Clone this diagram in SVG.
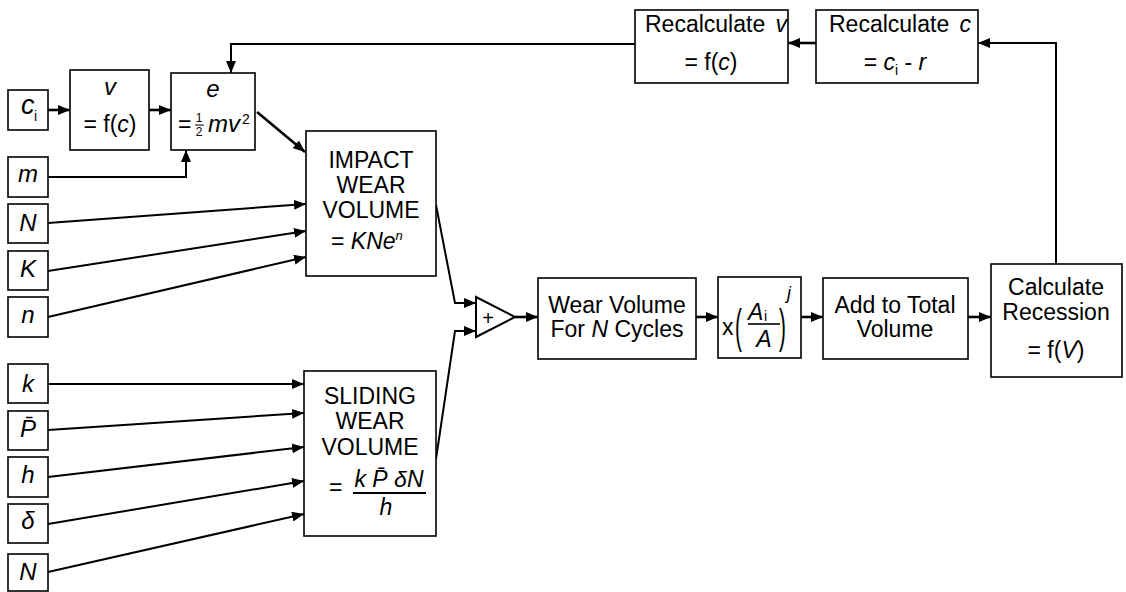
<svg xmlns="http://www.w3.org/2000/svg" width="1126" height="592" viewBox="0 0 1126 592">
<defs>
<marker id="ah" viewBox="0 0 12 10" refX="12" refY="5" markerWidth="12" markerHeight="10" markerUnits="userSpaceOnUse" orient="auto">
<path d="M0,0 L12,5 L0,10 z" fill="#000"/>
</marker>
<style>
rect.b{fill:#fff;stroke:#000;stroke-width:1.6}
text{font-family:"Liberation Sans",Arial,sans-serif;font-size:23px;fill:#000}
.m{text-anchor:middle}
.i{font-style:italic}
.v{font-size:24px}
.s{font-size:14px}
.c path{fill:none;stroke:#000;stroke-width:2;marker-end:url(#ah)}
.c path.t{stroke-width:2.6}
</style>
</defs>
<rect width="1126" height="592" fill="#fff"/>

<g class="c" id="connectors">
<path class="t" d="M48,110 L70,110"/>
<path class="t" d="M149,110 L171,110"/>
<path d="M48,177 L186,177 L186,150"/>
<path class="t" d="M257,112 L305,152"/>
<path d="M48,223 L306,204"/>
<path d="M48,271 L306,231"/>
<path d="M48,317 L306,257"/>
<path d="M436,205 L455,303 L476,303"/>
<path d="M436,459 L455,331 L476,331"/>
<path class="t" d="M515,317 L538,317"/>
<path class="t" d="M696,317 L718,317"/>
<path class="t" d="M801,317 L823,317"/>
<path class="t" d="M968,317 L991,317"/>
<path d="M1056,264 L1056,43 L978,43"/>
<path class="t" d="M816,43 L788,43"/>
<path d="M635,44 L231,44 L231,73"/>
<path d="M48,384 L304,384"/>
<path d="M48,430 L304,413"/>
<path d="M48,477 L304,447"/>
<path d="M48,524 L304,481"/>
<path d="M48,572 L304,514"/>
</g>

<g id="n-ci"><rect class="b" x="8" y="90" width="40" height="40"/>
<text x="21" y="114" class="i" style="font-size:27px">c</text><text x="34" y="121" class="s">i</text></g>
<g id="n-v"><rect class="b" x="70" y="70" width="79" height="80"/>
<text x="110" y="95" class="m i v">v</text>
<text x="110" y="132" class="m">= f(<tspan class="i">c</tspan>)</text></g>
<g id="n-e"><rect class="b" x="171" y="73" width="84" height="77"/>
<text x="213" y="97" class="m i v">e</text>
<text x="178" y="132">=</text>
<text x="199" y="122" class="m" style="font-size:12px">1</text>
<line x1="195" y1="125" x2="204" y2="125" stroke="#000" stroke-width="1"/>
<text x="199" y="136" class="m" style="font-size:12px">2</text>
<text x="208" y="132" class="i" style="font-size:24px">mv</text>
<text x="242" y="124" class="s">2</text></g>
<g id="n-m"><rect class="b" x="8" y="157" width="40" height="40"/>
<text x="28" y="182" class="m i v">m</text></g>
<g id="n-N1"><rect class="b" x="8" y="204" width="40" height="39"/>
<text x="28" y="231" class="m i v">N</text></g>
<g id="n-K"><rect class="b" x="8" y="251" width="40" height="39"/>
<text x="28" y="277" class="m i v">K</text></g>
<g id="n-n"><rect class="b" x="8" y="297" width="40" height="40"/>
<text x="28" y="323" class="m i v">n</text></g>

<g id="n-impact"><rect class="b" x="306" y="131" width="130" height="145"/>
<text x="371" y="168" class="m">IMPACT</text>
<text x="371" y="193" class="m">WEAR</text>
<text x="371" y="218" class="m">VOLUME</text>
<text x="331" y="249">= <tspan class="i">KNe</tspan><tspan class="i" style="font-size:13px" dy="-9">n</tspan></text></g>

<g id="n-k"><rect class="b" x="8" y="364" width="40" height="39"/>
<text x="28" y="392" class="m i v">k</text></g>
<g id="n-P"><rect class="b" x="8" y="411" width="40" height="39"/>
<text x="28" y="437" class="m i v">P̄</text></g>
<g id="n-h"><rect class="b" x="8" y="457" width="40" height="40"/>
<text x="28" y="483" class="m i v">h</text></g>
<g id="n-d"><rect class="b" x="8" y="504" width="40" height="39"/>
<text x="28" y="529" class="m i v">δ</text></g>
<g id="n-N2"><rect class="b" x="8" y="554" width="40" height="37"/>
<text x="28" y="580" class="m i v">N</text></g>

<g id="n-sliding"><rect class="b" x="304" y="371" width="132" height="165"/>
<text x="370" y="404" class="m">SLIDING</text>
<text x="370" y="429" class="m">WEAR</text>
<text x="370" y="455" class="m">VOLUME</text>
<text x="329" y="495">=</text>
<text x="389" y="487" class="m i">k P̄ δN</text>
<line x1="353" y1="493" x2="426" y2="493" stroke="#000" stroke-width="2"/>
<text x="386" y="515" class="m i">h</text></g>

<g id="n-sum"><polygon points="476,297 476,337 515,317" fill="#fff" stroke="#000" stroke-width="2"/>
<text x="488" y="325" class="m" style="font-size:20px">+</text></g>

<g id="n-wear"><rect class="b" x="538" y="278" width="158" height="81"/>
<text x="617" y="313" class="m">Wear Volume</text>
<text x="617" y="337" class="m">For <tspan class="i">N</tspan> Cycles</text></g>

<g id="n-ratio"><rect class="b" x="718" y="277" width="83" height="81"/>
<text x="722" y="335">x</text>
<text x="735" y="342" style="font-size:46px" transform="translate(735 342) scale(0.45 1) translate(-735 -342)">(</text>
<text x="748" y="320" class="i">A</text><text x="764" y="321" class="s">i</text>
<line x1="748" y1="324" x2="780" y2="324" stroke="#000" stroke-width="1.6"/>
<text x="764" y="347" class="m i">A</text>
<text x="779" y="342" style="font-size:46px" transform="translate(779 342) scale(0.45 1) translate(-779 -342)">)</text>
<text x="787" y="299" class="i" style="font-size:18px">j</text></g>

<g id="n-add"><rect class="b" x="823" y="278" width="145" height="81"/>
<text x="895" y="313" class="m">Add to Total</text>
<text x="895" y="337" class="m">Volume</text></g>

<g id="n-calc"><rect class="b" x="991" y="264" width="131" height="113"/>
<text x="1056" y="295" class="m">Calculate</text>
<text x="1056" y="320" class="m">Recession</text>
<text x="1056" y="358" class="m">= f(<tspan class="i">V</tspan>)</text></g>

<g id="n-rv"><rect class="b" x="635" y="10" width="153" height="73"/>
<text x="645" y="32">Recalculate <tspan class="i" dx="4">v</tspan></text>
<text x="711" y="70" class="m">= f(<tspan class="i">c</tspan>)</text></g>

<g id="n-rc"><rect class="b" x="816" y="10" width="162" height="73"/>
<text x="829" y="32">Recalculate <tspan class="i" dx="4">c</tspan></text>
<text x="895" y="70" class="m">= <tspan class="i">c</tspan><tspan class="s" dy="5">i</tspan><tspan dy="-5"> - </tspan><tspan class="i">r</tspan></text></g>
</svg>
